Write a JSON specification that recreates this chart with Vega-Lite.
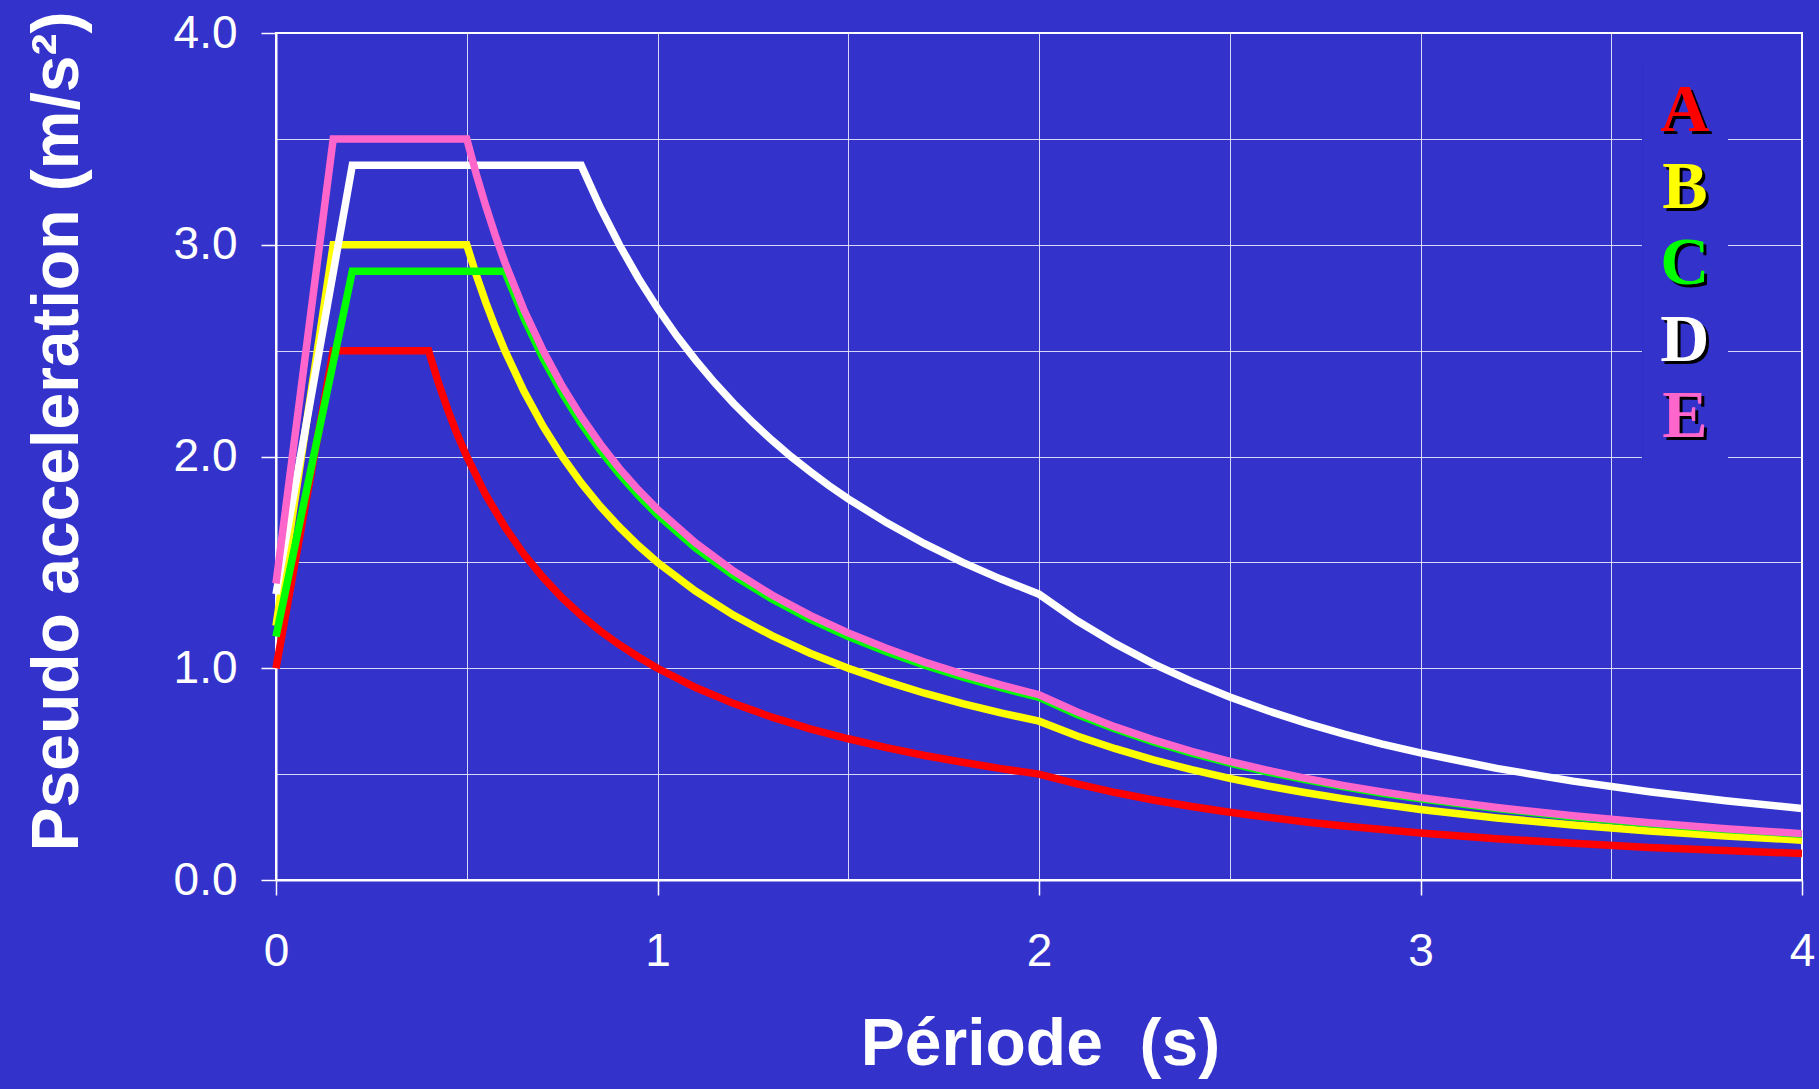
{
  "$schema": "https://vega.github.io/schema/vega-lite/v6.json",
  "width": 1526,
  "height": 847,
  "autosize": {"type": "none"},
  "padding": {"left": 276, "top": 33, "right": 17, "bottom": 209},
  "config": {
    "background": "#3333cc",
    "view": {"stroke": "#ffffff", "strokeWidth": 2},
    "axis": {
      "domainColor": "#ffffff",
      "domainWidth": 2,
      "grid": true,
      "gridColor": "#ffffff",
      "gridOpacity": 0.8,
      "gridWidth": 1,
      "tickColor": "#ffffff",
      "tickWidth": 1.5,
      "tickSize": 15,
      "labelColor": "#ffffff",
      "labelFont": "Liberation Sans",
      "labelFontSize": 46,
      "labelFontWeight": "normal",
      "labelOverlap": false,
      "labelFlush": false,
      "labelBound": false,
      "titleColor": "#ffffff",
      "titleFont": "Liberation Sans",
      "titleFontSize": 66,
      "titleFontWeight": "bold"
    }
  },
  "layer": [
    {
      "data": {
        "values": [
          {"soil": "A", "T": 0, "Se": 1.0}, {"soil": "A", "T": 0.15, "Se": 2.5}, {"soil": "A", "T": 0.4, "Se": 2.5},
          {"soil": "A", "T": 0.425, "Se": 2.353}, {"soil": "A", "T": 0.45, "Se": 2.222}, {"soil": "A", "T": 0.475, "Se": 2.105},
          {"soil": "A", "T": 0.5, "Se": 2.0}, {"soil": "A", "T": 0.55, "Se": 1.818}, {"soil": "A", "T": 0.6, "Se": 1.667},
          {"soil": "A", "T": 0.65, "Se": 1.538}, {"soil": "A", "T": 0.7, "Se": 1.429}, {"soil": "A", "T": 0.75, "Se": 1.333},
          {"soil": "A", "T": 0.8, "Se": 1.25}, {"soil": "A", "T": 0.85, "Se": 1.176}, {"soil": "A", "T": 0.9, "Se": 1.111},
          {"soil": "A", "T": 0.95, "Se": 1.053}, {"soil": "A", "T": 1.0, "Se": 1.0}, {"soil": "A", "T": 1.1, "Se": 0.909},
          {"soil": "A", "T": 1.2, "Se": 0.833}, {"soil": "A", "T": 1.3, "Se": 0.769}, {"soil": "A", "T": 1.4, "Se": 0.714},
          {"soil": "A", "T": 1.5, "Se": 0.667}, {"soil": "A", "T": 1.6, "Se": 0.625}, {"soil": "A", "T": 1.7, "Se": 0.588},
          {"soil": "A", "T": 1.8, "Se": 0.556}, {"soil": "A", "T": 1.9, "Se": 0.526}, {"soil": "A", "T": 2.0, "Se": 0.5},
          {"soil": "A", "T": 2.1, "Se": 0.454}, {"soil": "A", "T": 2.2, "Se": 0.413}, {"soil": "A", "T": 2.3, "Se": 0.378},
          {"soil": "A", "T": 2.4, "Se": 0.347}, {"soil": "A", "T": 2.5, "Se": 0.32}, {"soil": "A", "T": 2.6, "Se": 0.296},
          {"soil": "A", "T": 2.7, "Se": 0.274}, {"soil": "A", "T": 2.8, "Se": 0.255}, {"soil": "A", "T": 2.9, "Se": 0.238},
          {"soil": "A", "T": 3.0, "Se": 0.222}, {"soil": "A", "T": 3.2, "Se": 0.195}, {"soil": "A", "T": 3.4, "Se": 0.173},
          {"soil": "A", "T": 3.6, "Se": 0.154}, {"soil": "A", "T": 3.8, "Se": 0.139}, {"soil": "A", "T": 4.0, "Se": 0.125},

          {"soil": "B", "T": 0, "Se": 1.2}, {"soil": "B", "T": 0.15, "Se": 3.0}, {"soil": "B", "T": 0.5, "Se": 3.0},
          {"soil": "B", "T": 0.525, "Se": 2.857}, {"soil": "B", "T": 0.55, "Se": 2.727}, {"soil": "B", "T": 0.575, "Se": 2.609},
          {"soil": "B", "T": 0.6, "Se": 2.5}, {"soil": "B", "T": 0.65, "Se": 2.308}, {"soil": "B", "T": 0.7, "Se": 2.143},
          {"soil": "B", "T": 0.75, "Se": 2.0}, {"soil": "B", "T": 0.8, "Se": 1.875}, {"soil": "B", "T": 0.85, "Se": 1.765},
          {"soil": "B", "T": 0.9, "Se": 1.667}, {"soil": "B", "T": 0.95, "Se": 1.579}, {"soil": "B", "T": 1.0, "Se": 1.5},
          {"soil": "B", "T": 1.1, "Se": 1.364}, {"soil": "B", "T": 1.2, "Se": 1.25}, {"soil": "B", "T": 1.3, "Se": 1.154},
          {"soil": "B", "T": 1.4, "Se": 1.071}, {"soil": "B", "T": 1.5, "Se": 1.0}, {"soil": "B", "T": 1.6, "Se": 0.938},
          {"soil": "B", "T": 1.7, "Se": 0.882}, {"soil": "B", "T": 1.8, "Se": 0.833}, {"soil": "B", "T": 1.9, "Se": 0.789},
          {"soil": "B", "T": 2.0, "Se": 0.75}, {"soil": "B", "T": 2.1, "Se": 0.68}, {"soil": "B", "T": 2.2, "Se": 0.62},
          {"soil": "B", "T": 2.3, "Se": 0.567}, {"soil": "B", "T": 2.4, "Se": 0.521}, {"soil": "B", "T": 2.5, "Se": 0.48},
          {"soil": "B", "T": 2.6, "Se": 0.444}, {"soil": "B", "T": 2.7, "Se": 0.412}, {"soil": "B", "T": 2.8, "Se": 0.383},
          {"soil": "B", "T": 2.9, "Se": 0.357}, {"soil": "B", "T": 3.0, "Se": 0.333}, {"soil": "B", "T": 3.2, "Se": 0.293},
          {"soil": "B", "T": 3.4, "Se": 0.26}, {"soil": "B", "T": 3.6, "Se": 0.231}, {"soil": "B", "T": 3.8, "Se": 0.208},
          {"soil": "B", "T": 4.0, "Se": 0.188},

          {"soil": "C", "T": 0, "Se": 1.15}, {"soil": "C", "T": 0.2, "Se": 2.875}, {"soil": "C", "T": 0.6, "Se": 2.875},
          {"soil": "C", "T": 0.65, "Se": 2.654}, {"soil": "C", "T": 0.7, "Se": 2.464}, {"soil": "C", "T": 0.75, "Se": 2.3},
          {"soil": "C", "T": 0.8, "Se": 2.156}, {"soil": "C", "T": 0.85, "Se": 2.029}, {"soil": "C", "T": 0.9, "Se": 1.917},
          {"soil": "C", "T": 0.95, "Se": 1.816}, {"soil": "C", "T": 1.0, "Se": 1.725}, {"soil": "C", "T": 1.1, "Se": 1.568},
          {"soil": "C", "T": 1.2, "Se": 1.438}, {"soil": "C", "T": 1.3, "Se": 1.327}, {"soil": "C", "T": 1.4, "Se": 1.232},
          {"soil": "C", "T": 1.5, "Se": 1.15}, {"soil": "C", "T": 1.6, "Se": 1.078}, {"soil": "C", "T": 1.7, "Se": 1.015},
          {"soil": "C", "T": 1.8, "Se": 0.958}, {"soil": "C", "T": 1.9, "Se": 0.908}, {"soil": "C", "T": 2.0, "Se": 0.863},
          {"soil": "C", "T": 2.1, "Se": 0.782}, {"soil": "C", "T": 2.2, "Se": 0.713}, {"soil": "C", "T": 2.3, "Se": 0.652},
          {"soil": "C", "T": 2.4, "Se": 0.599}, {"soil": "C", "T": 2.5, "Se": 0.552}, {"soil": "C", "T": 2.6, "Se": 0.51},
          {"soil": "C", "T": 2.7, "Se": 0.473}, {"soil": "C", "T": 2.8, "Se": 0.44}, {"soil": "C", "T": 2.9, "Se": 0.41},
          {"soil": "C", "T": 3.0, "Se": 0.383}, {"soil": "C", "T": 3.2, "Se": 0.337}, {"soil": "C", "T": 3.4, "Se": 0.298},
          {"soil": "C", "T": 3.6, "Se": 0.266}, {"soil": "C", "T": 3.8, "Se": 0.239}, {"soil": "C", "T": 4.0, "Se": 0.216},

          {"soil": "D", "T": 0, "Se": 1.35}, {"soil": "D", "T": 0.2, "Se": 3.375}, {"soil": "D", "T": 0.8, "Se": 3.375},
          {"soil": "D", "T": 0.85, "Se": 3.176}, {"soil": "D", "T": 0.9, "Se": 3.0}, {"soil": "D", "T": 0.95, "Se": 2.842},
          {"soil": "D", "T": 1.0, "Se": 2.7}, {"soil": "D", "T": 1.05, "Se": 2.571}, {"soil": "D", "T": 1.1, "Se": 2.455},
          {"soil": "D", "T": 1.15, "Se": 2.348}, {"soil": "D", "T": 1.2, "Se": 2.25}, {"soil": "D", "T": 1.25, "Se": 2.16},
          {"soil": "D", "T": 1.3, "Se": 2.077}, {"soil": "D", "T": 1.35, "Se": 2.0}, {"soil": "D", "T": 1.4, "Se": 1.929},
          {"soil": "D", "T": 1.45, "Se": 1.862}, {"soil": "D", "T": 1.5, "Se": 1.8}, {"soil": "D", "T": 1.6, "Se": 1.688},
          {"soil": "D", "T": 1.7, "Se": 1.588}, {"soil": "D", "T": 1.8, "Se": 1.5}, {"soil": "D", "T": 1.9, "Se": 1.421},
          {"soil": "D", "T": 2.0, "Se": 1.35}, {"soil": "D", "T": 2.1, "Se": 1.224}, {"soil": "D", "T": 2.2, "Se": 1.116},
          {"soil": "D", "T": 2.3, "Se": 1.021}, {"soil": "D", "T": 2.4, "Se": 0.938}, {"soil": "D", "T": 2.5, "Se": 0.864},
          {"soil": "D", "T": 2.6, "Se": 0.799}, {"soil": "D", "T": 2.7, "Se": 0.741}, {"soil": "D", "T": 2.8, "Se": 0.689},
          {"soil": "D", "T": 2.9, "Se": 0.642}, {"soil": "D", "T": 3.0, "Se": 0.6}, {"soil": "D", "T": 3.2, "Se": 0.527},
          {"soil": "D", "T": 3.4, "Se": 0.467}, {"soil": "D", "T": 3.6, "Se": 0.417}, {"soil": "D", "T": 3.8, "Se": 0.374},
          {"soil": "D", "T": 4.0, "Se": 0.338},

          {"soil": "E", "T": 0, "Se": 1.4}, {"soil": "E", "T": 0.15, "Se": 3.5}, {"soil": "E", "T": 0.5, "Se": 3.5},
          {"soil": "E", "T": 0.525, "Se": 3.333}, {"soil": "E", "T": 0.55, "Se": 3.182}, {"soil": "E", "T": 0.575, "Se": 3.043},
          {"soil": "E", "T": 0.6, "Se": 2.917}, {"soil": "E", "T": 0.65, "Se": 2.692}, {"soil": "E", "T": 0.7, "Se": 2.5},
          {"soil": "E", "T": 0.75, "Se": 2.333}, {"soil": "E", "T": 0.8, "Se": 2.188}, {"soil": "E", "T": 0.85, "Se": 2.059},
          {"soil": "E", "T": 0.9, "Se": 1.944}, {"soil": "E", "T": 0.95, "Se": 1.842}, {"soil": "E", "T": 1.0, "Se": 1.75},
          {"soil": "E", "T": 1.1, "Se": 1.591}, {"soil": "E", "T": 1.2, "Se": 1.458}, {"soil": "E", "T": 1.3, "Se": 1.346},
          {"soil": "E", "T": 1.4, "Se": 1.25}, {"soil": "E", "T": 1.5, "Se": 1.167}, {"soil": "E", "T": 1.6, "Se": 1.094},
          {"soil": "E", "T": 1.7, "Se": 1.029}, {"soil": "E", "T": 1.8, "Se": 0.972}, {"soil": "E", "T": 1.9, "Se": 0.921},
          {"soil": "E", "T": 2.0, "Se": 0.875}, {"soil": "E", "T": 2.1, "Se": 0.794}, {"soil": "E", "T": 2.2, "Se": 0.723},
          {"soil": "E", "T": 2.3, "Se": 0.662}, {"soil": "E", "T": 2.4, "Se": 0.608}, {"soil": "E", "T": 2.5, "Se": 0.56},
          {"soil": "E", "T": 2.6, "Se": 0.518}, {"soil": "E", "T": 2.7, "Se": 0.48}, {"soil": "E", "T": 2.8, "Se": 0.446},
          {"soil": "E", "T": 2.9, "Se": 0.416}, {"soil": "E", "T": 3.0, "Se": 0.389}, {"soil": "E", "T": 3.2, "Se": 0.342},
          {"soil": "E", "T": 3.4, "Se": 0.303}, {"soil": "E", "T": 3.6, "Se": 0.27}, {"soil": "E", "T": 3.8, "Se": 0.242},
          {"soil": "E", "T": 4.0, "Se": 0.219}
        ]
      },
      "layer": [
        {
          "mark": {"type": "rect", "fill": "#3333cc", "strokeWidth": 0},
          "encoding": {
            "x": {"datum": 3.583, "type": "quantitative", "scale": {"domain": [0, 4], "nice": false}},
            "x2": {"datum": 3.806},
            "y": {"datum": 3.87, "type": "quantitative", "scale": {"domain": [0, 4], "nice": false}},
            "y2": {"datum": 1.94}
          }
        },
        {
          "mark": {"type": "line", "strokeWidth": 7.5, "strokeJoin": "miter", "strokeCap": "butt"},
          "encoding": {
            "x": {
              "field": "T",
              "type": "quantitative",
              "scale": {"domain": [0, 4], "nice": false},
              "axis": {
                "grid": true,
                "values": [0, 0.5, 1, 1.5, 2, 2.5, 3, 3.5, 4],
                "labelExpr": "datum.value % 1 === 0 ? format(datum.value, 'd') : ''",
                "tickOpacity": {"condition": {"test": "datum.value % 1 !== 0", "value": 0}, "value": 1},
                "labelPadding": 34,
                "title": "Période \u00a0(s)",
                "titleAlign": "center",
                "titleBaseline": "alphabetic",
                "titleX": 764,
                "titleY": 184
              }
            },
            "y": {
              "field": "Se",
              "type": "quantitative",
              "scale": {"domain": [0, 4], "nice": false},
              "axis": {
                "grid": true,
                "values": [0, 0.5, 1, 1.5, 2, 2.5, 3, 3.5, 4],
                "labelExpr": "datum.value % 1 === 0 ? format(datum.value, '.1f') : ''",
                "tickOpacity": {"condition": {"test": "datum.value % 1 !== 0", "value": 0}, "value": 1},
                "labelPadding": 24,
                "title": "Pseudo acceleration (m/s²)",
                "titleAngle": 270,
                "titleAlign": "center",
                "titleBaseline": "alphabetic",
                "titleX": -199,
                "titleY": 398
              }
            },
            "color": {
              "field": "soil",
              "type": "nominal",
              "scale": {"domain": ["A", "B", "C", "D", "E"], "range": ["#ff0000", "#ffff00", "#00ff00", "#ffffff", "#ff66cc"]},
              "legend": null
            }
          }
        }
      ]
    },
    {
      "data": {"values": [{"soil": "A"}, {"soil": "B"}, {"soil": "C"}, {"soil": "D"}, {"soil": "E"}]},
      "encoding": {
        "x": {"datum": 3.693, "type": "quantitative", "scale": {"domain": [0, 4], "nice": false}},
        "y": {"field": "soil", "type": "nominal", "scale": {"type": "point", "range": [98, 404], "padding": 0}, "axis": null},
        "text": {"field": "soil"}
      },
      "layer": [
        {
          "mark": {"type": "text", "font": "Liberation Serif", "fontWeight": "bold", "fontSize": 68, "align": "center", "baseline": "alphabetic", "dx": 3, "dy": 3, "fill": "#000000"}
        },
        {
          "mark": {"type": "text", "font": "Liberation Serif", "fontWeight": "bold", "fontSize": 68, "align": "center", "baseline": "alphabetic"},
          "encoding": {
            "color": {"field": "soil", "type": "nominal", "legend": null}
          }
        }
      ]
    }
  ],
  "resolve": {"scale": {"y": "independent"}}
}
